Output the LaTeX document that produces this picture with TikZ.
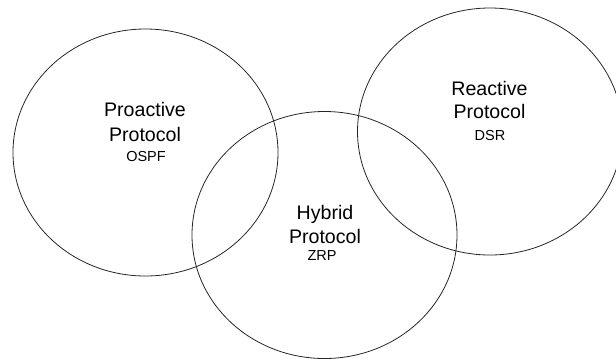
\documentclass[tikz,border=0pt]{standalone}
\usepackage{fontspec}
\setmainfont{Liberation Sans}
\usetikzlibrary{shapes.geometric}
\begin{document}
\begin{tikzpicture}[x=1pt,y=-1pt,
  ring/.style={draw=black!85, line width=0.8pt, ellipse, inner sep=0pt,
               minimum width=265pt, minimum height=247pt},
  bigtext/.style={anchor=base, inner sep=0pt, font=\fontsize{19.6}{23}\selectfont},
  smalltext/.style={anchor=base, inner sep=0pt, font=\fontsize{14.5}{17}\selectfont}]
  \useasboundingbox (0,0) rectangle (616,360);
  % the three overlapping protocol families
  \node[ring] (proactive) at (145.5,152.5) {};
  \node[ring] (hybrid)    at (324.5,235)   {};
  \node[ring] (reactive)  at (490,131.5)   {};
  % proactive
  \node[bigtext]   (proA) at (145,116) {Proactive};
  \node[bigtext]   (proB) at (145,141) {Protocol};
  \node[smalltext] (proC) at (146,161) {OSPF};
  % hybrid
  \node[bigtext]   (hybA) at (325,219) {Hybrid};
  \node[bigtext]   (hybB) at (325,243) {Protocol};
  \node[smalltext] (hybC) at (322,260) {ZRP};
  % reactive
  \node[bigtext]   (reaA) at (489.5,95)  {Reactive};
  \node[bigtext]   (reaB) at (489.5,118) {Protocol};
  \node[smalltext] (reaC) at (490,140)   {DSR};
\end{tikzpicture}
\end{document}
